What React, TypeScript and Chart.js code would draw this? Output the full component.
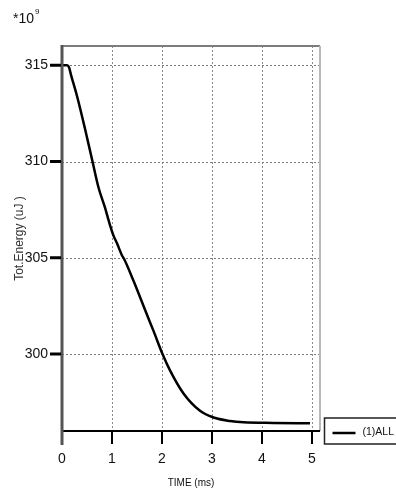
import React, { useEffect, useRef } from "react";
import { Chart, registerables } from "chart.js";

Chart.register(...registerables);

// ---- data ----
const timeMs = [0, 0.1, 0.14, 0.18, 0.3, 0.46, 0.61, 0.73, 0.86, 0.96, 1.03, 1.1, 1.2, 1.24, 1.43, 1.69, 1.83, 2.01, 2.16, 2.43, 2.76, 3.03, 3.36, 3.63, 4.23, 4.96];
const totEnergy = [315, 315, 314.9, 314.5, 313.4, 311.7, 310, 308.65, 307.6, 306.7, 306.15, 305.75, 305.12, 304.95, 303.8, 302.1, 301.2, 300, 299.15, 297.95, 297.05, 296.7, 296.52, 296.45, 296.42, 296.4];
const xTickValues = [0, 1, 2, 3, 4, 5];
const yTickValues = [300, 305, 310, 315];
const seriesLabel = "(1)ALL";
const xTitle = "TIME (ms)";
const yTitle = "Tot.Energy (uJ )";
const multiplierText = "*10";
const exponentText = "9";

const SANS = "'Liberation Sans', Arial, sans-serif";

function seg(ctx: CanvasRenderingContext2D, x1: number, y1: number, x2: number, y2: number) {
  ctx.beginPath();
  ctx.moveTo(x1, y1);
  ctx.lineTo(x2, y2);
  ctx.stroke();
}

const framePlugin = {
  id: "frame",
  beforeDatasetsDraw(chart: any) {
    const { ctx, chartArea, scales } = chart;
    const { left, right, top, bottom } = chartArea;
    const x = scales.x;
    const y = scales.y;
    ctx.save();
    ctx.lineWidth = 1;
    ctx.setLineDash([2, 2]);
    ctx.strokeStyle = "#8a8a8a";
    for (const v of xTickValues) {
      if (v === 0) continue;
      const px = Math.round(x.getPixelForValue(v)) + 0.5;
      seg(ctx, px, top, px, bottom);
    }
    ctx.strokeStyle = "#7a7a7a";
    for (const v of yTickValues) {
      const py = Math.round(y.getPixelForValue(v)) + 0.5;
      seg(ctx, left, py, right, py);
    }
    ctx.setLineDash([]);
    ctx.lineWidth = 2;
    ctx.strokeStyle = "#7c7c7c";
    seg(ctx, left, top, right, top);
    ctx.strokeStyle = "#b8b8b8";
    seg(ctx, right, top, right, bottom);
    ctx.restore();
  },
  afterDatasetsDraw(chart: any) {
    const { ctx, chartArea, scales } = chart;
    const { left, right, top, bottom } = chartArea;
    const x = scales.x;
    const y = scales.y;
    ctx.save();
    ctx.strokeStyle = "#000";
    ctx.lineWidth = 2;
    seg(ctx, left, bottom, right, bottom);
    for (const v of xTickValues) {
      if (v === 0) continue;
      const px = x.getPixelForValue(v);
      seg(ctx, px, bottom, px, bottom + 13);
    }
    ctx.strokeStyle = "#555";
    ctx.lineWidth = 3;
    seg(ctx, left, top - 1, left, bottom + 14);
    ctx.strokeStyle = "#000";
    ctx.lineWidth = 3;
    for (const v of yTickValues) {
      const py = y.getPixelForValue(v);
      seg(ctx, left - 12, py, left - 1, py);
    }
    ctx.restore();
  },
  afterDraw(chart: any) {
    const { ctx, chartArea } = chart;
    const { right, bottom } = chartArea;
    ctx.save();
    const bx = right + 4.5;
    const by = bottom - 13;
    ctx.strokeStyle = "#222";
    ctx.lineWidth = 1.5;
    ctx.strokeRect(bx, by, 90, 26);
    ctx.strokeStyle = "#000";
    ctx.lineWidth = 2.5;
    seg(ctx, bx + 8, by + 15, bx + 31, by + 15);
    ctx.fillStyle = "#111";
    ctx.font = `10.5px ${SANS}`;
    ctx.textBaseline = "middle";
    ctx.textAlign = "left";
    ctx.fillText(chart.data.datasets[0].label, bx + 38, by + 14);
    ctx.font = `14px ${SANS}`;
    ctx.textBaseline = "alphabetic";
    ctx.fillText(multiplierText, 13, 23);
    const w = ctx.measureText(multiplierText).width;
    ctx.font = `8px ${SANS}`;
    ctx.fillText(exponentText, 13 + w + 1, 14);
    ctx.restore();
  },
};

export default function App() {
  const ref = useRef<HTMLCanvasElement | null>(null);
  useEffect(() => {
    document.body.style.margin = "0";
    const canvas = ref.current;
    if (!canvas) return;
    const chart = new Chart(canvas, {
      type: "line",
      data: {
        datasets: [
          {
            label: seriesLabel,
            data: timeMs.map((t, i) => ({ x: t, y: totEnergy[i] })),
            borderColor: "#000",
            borderWidth: 2.5,
            pointRadius: 0,
            fill: false,
            cubicInterpolationMode: "monotone",
          },
        ],
      },
      options: {
        responsive: false,
        animation: false,
        layout: { padding: { top: 46, right: 76, left: 0, bottom: 0 } },
        plugins: { legend: { display: false }, tooltip: { enabled: false } },
        scales: {
          x: {
            type: "linear",
            min: 0,
            max: 5.16,
            grid: { display: false, drawTicks: false },
            border: { display: false },
            afterBuildTicks: (s: any) => {
              s.ticks = xTickValues.map((v) => ({ value: v }));
            },
            afterFit: (s: any) => {
              s.height = 62;
            },
            ticks: {
              autoSkip: false,
              maxRotation: 0,
              padding: 20,
              color: "#111",
              font: { family: SANS, size: 14 },
              callback: (v: any) => String(v),
            },
            title: {
              display: true,
              text: xTitle,
              color: "#111",
              font: { family: SANS, size: 10 },
              padding: { top: 0, bottom: 3.5 },
            },
          },
          y: {
            type: "linear",
            min: 296,
            max: 316,
            grid: { display: false, drawTicks: false },
            border: { display: false },
            afterBuildTicks: (s: any) => {
              s.ticks = yTickValues.map((v) => ({ value: v }));
            },
            afterFit: (s: any) => {
              s.width = 62;
            },
            ticks: {
              autoSkip: false,
              padding: 14,
              color: "#111",
              font: { family: SANS, size: 14 },
              callback: (v: any) => String(v),
            },
            title: {
              display: true,
              text: yTitle,
              color: "#333",
              font: { family: SANS, size: 12 },
              padding: { top: 12.8, bottom: 0 },
            },
          },
        },
      },
      plugins: [framePlugin],
    } as any);
    return () => chart.destroy();
  }, []);
  return <canvas ref={ref} width={396} height={493} style={{ display: "block" }} />;
}
